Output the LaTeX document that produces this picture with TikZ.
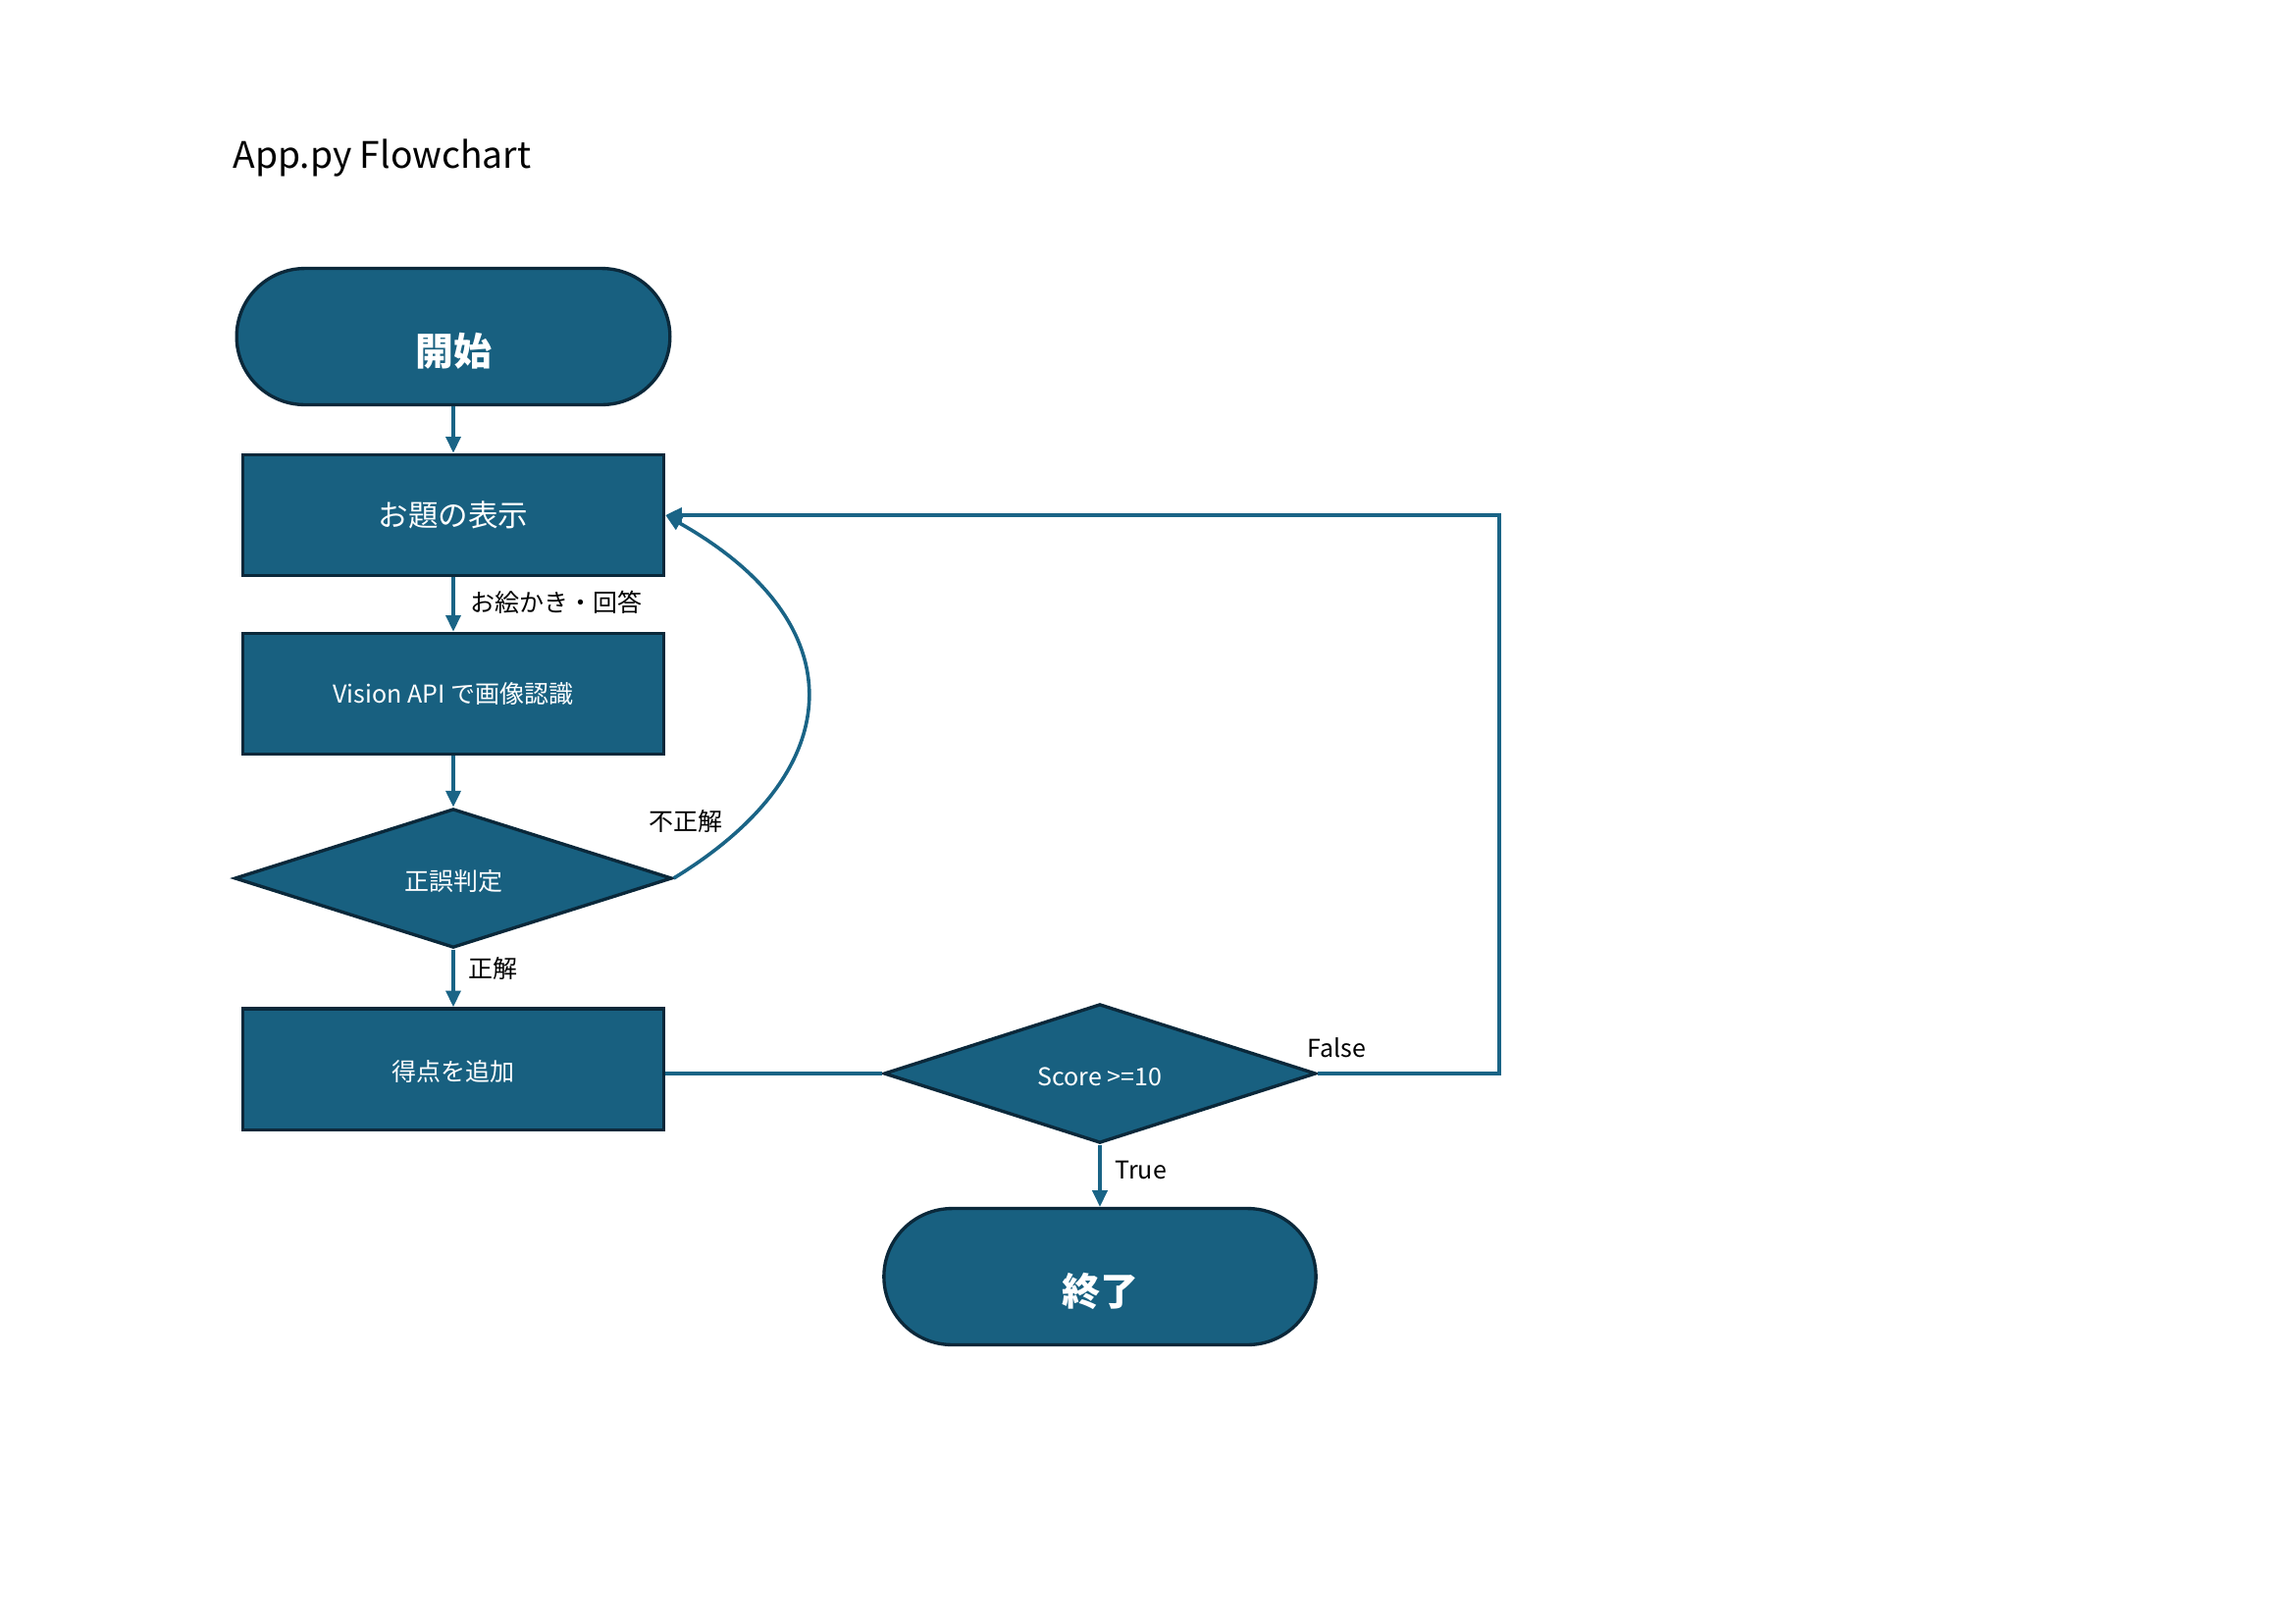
\documentclass[tikz,border=0pt]{standalone}
\usepackage{fontspec}
\setmainfont{Noto Sans CJK JP}
\usetikzlibrary{shapes.geometric,arrows.meta}
\definecolor{fillc}{RGB}{24,96,128}
\definecolor{edgec}{RGB}{10,40,58}
\definecolor{linec}{RGB}{26,100,134}
\begin{document}
\begin{tikzpicture}[x=0.36pt,y=-0.36pt,
 base/.style={draw=edgec, line width=1.2pt, fill=fillc, text=white, inner sep=0pt, align=center},
 term/.style={base, rectangle, rounded corners=25pt, minimum width=159pt, minimum height=50pt, text height=21pt, text depth=0pt, font=\fontsize{14}{16}\selectfont\bfseries},
 proc/.style={base, rectangle, minimum width=154.5pt, minimum height=44.4pt, font=\fontsize{9}{11}\selectfont},
 lowtext/.style={text height=9.5pt, text depth=0.7pt},
 dec/.style={base, diamond, shape aspect=3.1, minimum height=51pt, lowtext, font=\fontsize{9}{11}\selectfont},
 conn/.style={draw=linec, line width=1.3pt, -{Triangle[length=6pt,width=5.4pt]}},
 plain/.style={draw=linec, line width=1.3pt},
 lbl/.style={font=\fontsize{9}{11}\selectfont, text=black, inner sep=0pt, anchor=west}]
\useasboundingbox (0,0) rectangle (2339,1654);
\node[anchor=west, inner sep=0pt, font=\fontsize{13.4}{16}\selectfont] (title) at (237,161) {App.py Flowchart};
\node[term] (t1) at (462,343) {開始};
\node[proc, font=\fontsize{11}{13}\selectfont] (b1) at (462,525) {お題の表示};
\node[proc] (b2) at (462,707) {Vision API で画像認識};
\node[dec, minimum width=160.5pt] (d1) at (462,895) {正誤判定};
\node[proc, lowtext] (b3) at (462,1089.5) {得点を追加};
\node[dec, minimum width=158.5pt] (d2) at (1121,1094) {Score >=10};
\node[term, minimum width=158.5pt] (t2) at (1121,1301) {終了};
\coordinate (fr) at (1528,1094);
\coordinate (fl) at (1528,525);
\draw[conn] (t1.south) -- (b1.north);
\draw[conn] (b1.south) -- (b2.north);
\draw[conn] (b2.south) -- (d1.north);
\draw[conn] (d1.south) -- (b3.north);
\draw[plain] (b3.east |- d2.west) -- (d2.west);
\draw[conn] (d2.south) -- (t2.north);
\draw[conn] (d2.east) -- (fr) -- (fl) -- (b1.east);
\draw[conn] (d1.east) .. controls (870,783) and (870,633) .. (b1.east);
\node[lbl] (l1) at (479,614) {お絵かき・回答};
\node[lbl] (l2) at (661,837) {不正解};
\node[lbl] (l3) at (477,987) {正解};
\node[lbl] (l4) at (1332,1068) {False};
\node[lbl] (l5) at (1136,1192) {True};
\end{tikzpicture}
\end{document}
